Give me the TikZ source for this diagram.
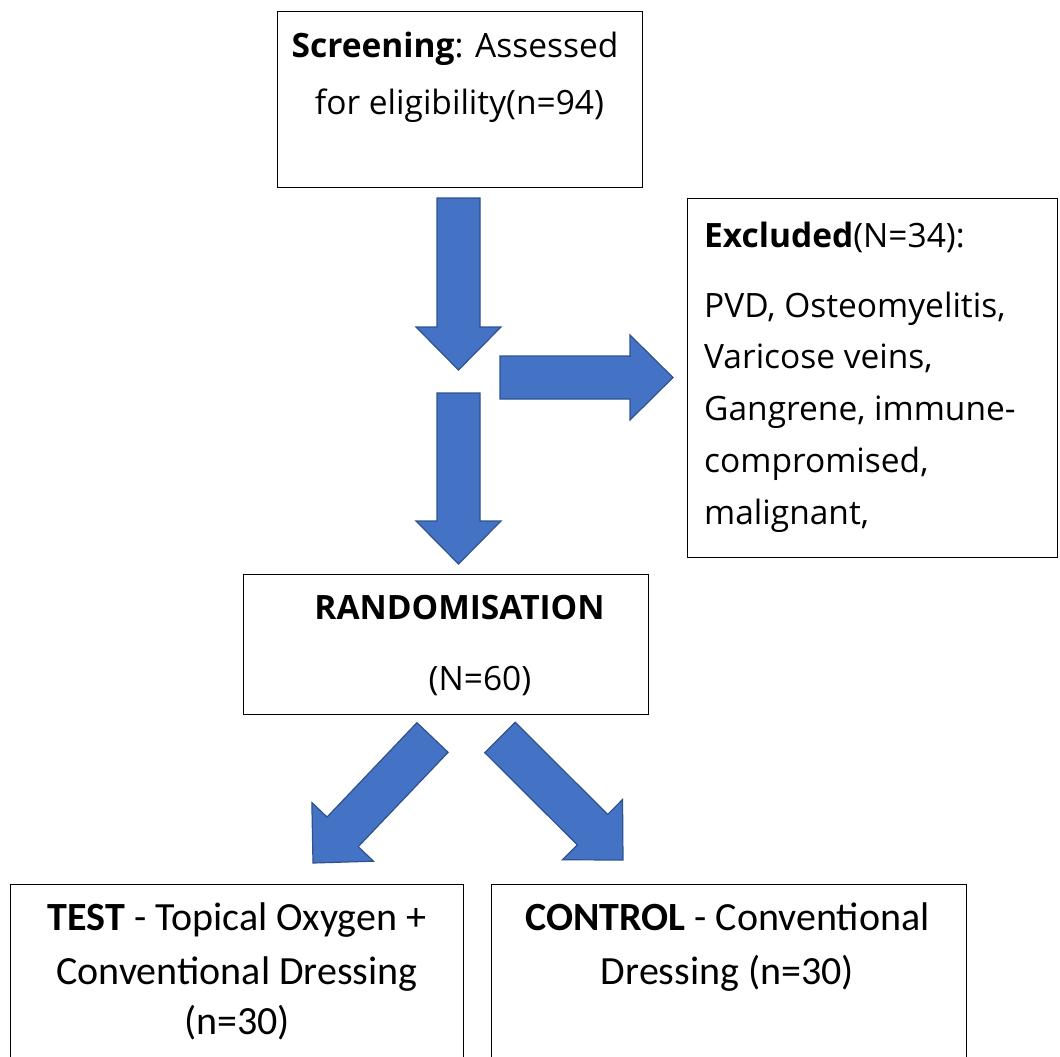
\documentclass[tikz,border=0pt]{standalone}
\usepackage{fontspec}
\setmainfont{Open Sans}
\newfontfamily\calfont{Carlito}
\usetikzlibrary{calc}
\definecolor{arrowblue}{HTML}{4472C4}
\definecolor{arrowedge}{HTML}{2F528F}
\tikzset{
  box/.style={draw=black, line width=1.4pt, rectangle, inner sep=0pt, anchor=north west},
  segline/.style={inner sep=0pt, anchor=base, font=\fontsize{33.5}{40}\selectfont},
  segleft/.style={inner sep=0pt, anchor=base west, font=\fontsize{33.5}{40}\selectfont},
  calline/.style={inner sep=0pt, anchor=base, font=\calfont\fontsize{40}{48}\selectfont},
  blockarrow/.style={fill=arrowblue, draw=arrowedge, line width=1.2pt, line join=miter},
}
\newcommand\blockarrow[2]{%
  \coordinate (#1hb) at ($(#2)!43pt!(#1)$);
  \path[blockarrow] ($(#1)!21.5pt!90:(#2)$) -- ($(#1hb)!21.5pt!90:(#2)$)
    -- ($(#1hb)!42.5pt!90:(#2)$) -- (#2) -- ($(#1hb)!42.5pt!-90:(#2)$)
    -- ($(#1hb)!21.5pt!-90:(#2)$) -- ($(#1)!21.5pt!-90:(#2)$) -- cycle;
}
\begin{document}
\begin{tikzpicture}[x=1pt, y=-1pt]
\clip (0,0) rectangle (1060,1057);
\fill[white] (0,0) rectangle (1060,1057);

% boxes
\node[box, minimum width=365pt, minimum height=176pt] (scr) at (277,11) {};
\node[box, minimum width=370pt, minimum height=359pt] (exc) at (687,198) {};
\node[box, minimum width=405pt, minimum height=140pt] (rnd) at (243,574) {};
\node[box, minimum width=453pt, minimum height=220pt] (tst) at (10,884) {};
\node[box, minimum width=475pt, minimum height=220pt] (ctl) at (491,884) {};

% texts
\node[segline] (scr1) at (455,58) {\textbf{Screening}: Assessed};
\node[segline] (scr2) at (459.5,114) {for eligibility(n=94)};

\node[segleft] (exc1) at (704,247) {\textbf{Excluded}(N=34):};
\node[segleft] (exc2) at (704,317) {PVD, Osteomyelitis,};
\node[segleft] (exc3) at (704,368) {Varicose veins,};
\node[segleft] (exc4) at (704,420) {Gangrene, immune-};
\node[segleft] (exc5) at (704,472) {compromised,};
\node[segleft] (exc6) at (704,524) {malignant,};

\node[segline] (rnd1) at (459.5,619) {\textbf{RANDOMISATION}};
\node[segline] (rnd2) at (480,690) {(N=60)};

\node[calline] (tst1) at (237,930) {\textbf{TEST} - Topical Oxygen +};
\node[calline] (tst2) at (237,984) {Conventional Dressing};
\node[calline] (tst3) at (237,1034) {(n=30)};

\node[calline] (ctl1) at (727.5,930) {\textbf{CONTROL} - Conventional};
\node[calline] (ctl2) at (727.5,984) {Dressing (n=30)};

% block arrows
\coordinate (a1s) at (458.5,198);
\coordinate (a1e) at (458.5,370);
\coordinate (a2s) at (458.5,393);
\coordinate (a2e) at (458.5,564);
\coordinate (a3s) at (500,377.5);
\coordinate (a3e) at (673,377.5);
\coordinate (a4s) at (432.5,737.5);
\coordinate (a4e) at (313,863);
\coordinate (a5s) at (500,737.5);
\coordinate (a5e) at (623,860);
\blockarrow{a1s}{a1e}
\blockarrow{a2s}{a2e}
\blockarrow{a3s}{a3e}
\blockarrow{a4s}{a4e}
\blockarrow{a5s}{a5e}
\end{tikzpicture}
\end{document}
